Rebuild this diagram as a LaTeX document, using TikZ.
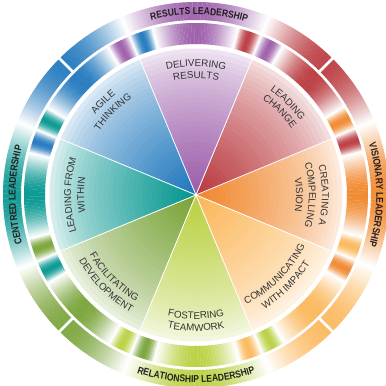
\documentclass[tikz,border=0pt]{standalone}
\usepackage{fontspec}
\setmainfont{Liberation Sans}
\newfontfamily\bandfamily[UprightFont={* Bold},FakeStretch=0.85]{Liberation Sans}
\usetikzlibrary{decorations.text}
\definecolor{w0}{HTML}{F08529}
\definecolor{w1}{HTML}{B8363B}
\definecolor{w2}{HTML}{9A5AA8}
\definecolor{w3}{HTML}{1B75BC}
\definecolor{w4}{HTML}{00948E}
\definecolor{w5}{HTML}{76A134}
\definecolor{w6}{HTML}{B8D03D}
\definecolor{w7}{HTML}{FBB657}
\definecolor{txt}{HTML}{333333}
\definecolor{bandtxt}{HTML}{231F20}
\newcommand\wedgefont{\fontsize{9.8}{10}\selectfont}
\newcommand\bandfont{\bandfamily\fontsize{10}{10}\selectfont}
\tikzset{
  wtext/.style={decorate, decoration={text along path, text align=center, text color=txt, text={|\wedgefont|#1}}},
  btext/.style={decorate, decoration={text along path, text align=center, text color=bandtxt, text={|\bandfont|#1}}},
  sep/.style={white, line width=0.8pt},
  gap/.style={white, line width=2.6pt}
}
\newcommand\toplabel[3]{\path[wtext={#3}] (#1+32:#2) arc[start angle=#1+32, end angle=#1-32, radius=#2];}
\newcommand\botlabel[3]{\path[wtext={#3}] (#1-32:#2) arc[start angle=#1-32, end angle=#1+32, radius=#2];}
\begin{document}
\begin{tikzpicture}[x=1pt,y=1pt]
\useasboundingbox (-196,-191) rectangle (190,195);
\coordinate (c) at (0,0);
% pie wedges with radial gradient
\foreach \k in {0,...,7} {
  \foreach \j in {30,29,...,1} {
    \pgfmathsetmacro{\r}{146.5*\j/30}
    \pgfmathtruncatemacro{\I}{12+88*(1-(\j-0.5)/30)^0.7}
    \fill[w\k!\I!white] (c) -- (\k*45-22.5:\r) arc[start angle=\k*45-22.5, end angle=\k*45+22.5, radius=\r] -- cycle;
  }
}
\foreach \i in {0,...,7} {
  \draw[sep] (c) -- (\i*45+22.5:147);
}
% outer band
\foreach \t in {0,0.5,...,359.5} {
  \pgfmathtruncatemacro{\k}{mod(round(\t/45),8)}
  \pgfmathsetmacro{\d}{\t-45*round(\t/45)}
  \pgfmathtruncatemacro{\I}{max(0,92*cos(4*\d))}
  \fill[w\k!\I!white] (\t:175) arc[start angle=\t, end angle=\t+0.6, radius=175] -- (\t+0.6:193) arc[start angle=\t+0.6, end angle=\t, radius=193] -- cycle;
}
% inner ring
\foreach \t in {0,0.5,...,359.5} {
  \pgfmathtruncatemacro{\k}{mod(round(\t/45),8)}
  \pgfmathsetmacro{\d}{\t-45*round(\t/45)}
  \pgfmathsetmacro{\ad}{abs(\d)}
  \pgfmathtruncatemacro{\n}{\ad<14.5 ? \k : mod(\k+(\d>0 ? 1 : 7),8)}
  \pgfmathtruncatemacro{\I}{max(0, \ad<14.5 ? 95*cos(\ad*90/14.5) : 95*sin((\ad-14.5)*180/8))}
  \fill[w\n!\I!white] (\t:151) arc[start angle=\t, end angle=\t+0.6, radius=151] -- (\t+0.6:172) arc[start angle=\t+0.6, end angle=\t, radius=172] -- cycle;
}
\foreach \a in {45,135,225,315} {
  \draw[gap] (\a:174) -- (\a:194);
}
% band labels
\path[btext={RESULTS LEADERSHIP}] (119:180.4) arc[start angle=119, end angle=59, radius=180.4];
\path[btext={VISIONARY LEADERSHIP}] (30:180.4) arc[start angle=30, end angle=-30, radius=180.4];
\path[btext={CENTRED LEADERSHIP}] (210:180.4) arc[start angle=210, end angle=150, radius=180.4];
\path[btext={RELATIONSHIP LEADERSHIP}] (239:187.6) arc[start angle=239, end angle=301, radius=187.6];
% wedge labels
\toplabel{0}{126}{CREATING A}
\toplabel{0}{113}{COMPELLING}
\toplabel{0}{100}{VISION}
\toplabel{45}{128}{LEADING}
\toplabel{45}{116.5}{CHANGE}
\toplabel{90}{128.5}{DELIVERING}
\toplabel{90}{116.5}{RESULTS}
\toplabel{135}{128.5}{AGILE}
\toplabel{135}{116}{THINKING}
\toplabel{180}{125}{LEADING FROM}
\toplabel{180}{112}{WITHIN}
\botlabel{225}{122}{FACILITATING}
\botlabel{225}{134}{DEVELOPMENT}
\botlabel{270}{124}{FOSTERING}
\botlabel{270}{136}{TEAMWORK}
\botlabel{315}{120}{COMMUNICATING}
\botlabel{315}{133}{WITH IMPACT}
\end{tikzpicture}
\end{document}
